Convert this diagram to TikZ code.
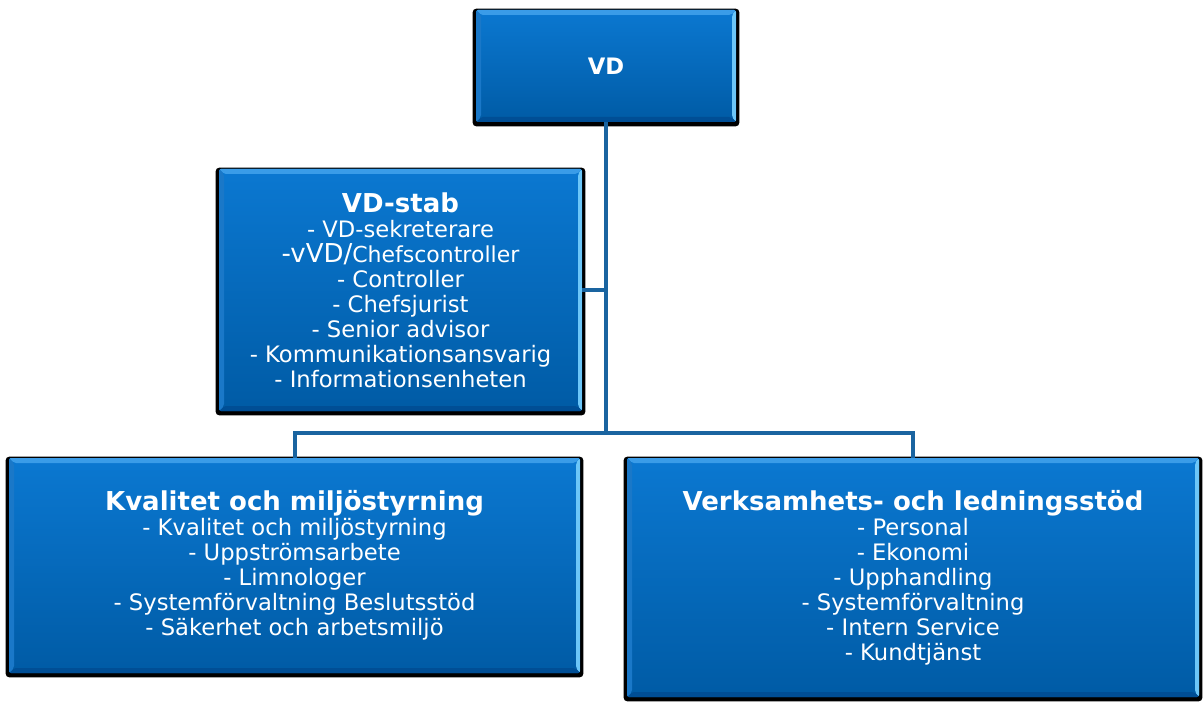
\documentclass[tikz,border=0pt]{standalone}
\usepackage{fontspec}
\setmainfont{DejaVu Sans}
\usetikzlibrary{calc,backgrounds}
\definecolor{boxtop}{HTML}{0B78D1}
\definecolor{boxbot}{HTML}{005BA5}
\definecolor{bevtop}{HTML}{3A9CE8}
\definecolor{bevright}{HTML}{6CC6F8}
\definecolor{bevleft}{HTML}{1A78C8}
\definecolor{bevbot}{HTML}{004E95}
\definecolor{linecol}{HTML}{1A64A0}
\newcommand\ttlfont{\fontsize{19.5pt}{22pt}\selectfont\bfseries}
\newcommand\itmfont{\fontsize{17pt}{18.75pt}\selectfont}
\tikzset{
  orgbox/.style={rectangle, rounded corners=1.5pt, text=white, align=center,
    inner sep=0pt, top color=boxtop, bottom color=boxbot, draw=none,
    font=\itmfont,
    path picture={
      \fill[bevtop] (path picture bounding box.north west) -- (path picture bounding box.north east)
        -- ([xshift=-3.75pt,yshift=-3.75pt]path picture bounding box.north east)
        -- ([xshift=3.75pt,yshift=-3.75pt]path picture bounding box.north west) -- cycle;
      \fill[bevright] (path picture bounding box.north east) -- (path picture bounding box.south east)
        -- ([xshift=-3pt,yshift=3.75pt]path picture bounding box.south east)
        -- ([xshift=-3pt,yshift=-3.75pt]path picture bounding box.north east) -- cycle;
      \fill[bevbot] (path picture bounding box.south east) -- (path picture bounding box.south west)
        -- ([xshift=3.75pt,yshift=3.75pt]path picture bounding box.south west)
        -- ([xshift=-3.75pt,yshift=3.75pt]path picture bounding box.south east) -- cycle;
      \fill[bevleft] (path picture bounding box.south west) -- (path picture bounding box.north west)
        -- ([xshift=3.75pt,yshift=-3.75pt]path picture bounding box.north west)
        -- ([xshift=3.75pt,yshift=3.75pt]path picture bounding box.south west) -- cycle;
    }},
  shadowfill/.style={fill=black, rounded corners=2.5pt},
  conn/.style={draw=linecol, line width=3pt}
}
\begin{document}
\begin{tikzpicture}[x=0.75pt,y=-0.75pt]
\useasboundingbox (0,0) rectangle (1203,702);
\node[orgbox, minimum width=195pt, minimum height=84pt] (vd) at (606,66)
  {\fontsize{17pt}{19pt}\selectfont\bfseries VD};
\node[orgbox, minimum width=272.25pt, minimum height=181.5pt] (stab) at (400.5,290)
  {{\ttlfont VD-stab}\\
   - VD-sekreterare\\
   {\fontsize{19.5pt}{18.75pt}\selectfont -vVD/}{\fontsize{16.5pt}{18pt}\selectfont Chefscontroller}\\
   - Controller\\
   - Chefsjurist\\
   - Senior advisor\\
   - Kommunikationsansvarig\\
   - Informationsenheten};
\node[orgbox, minimum width=428.25pt, minimum height=161.25pt] (kv) at (294.5,565.5)
  {{\ttlfont Kvalitet och miljöstyrning}\\
   - Kvalitet och miljöstyrning\\
   - Uppströmsarbete\\
   - Limnologer\\
   - Systemförvaltning Beslutsstöd\\
   - Säkerhet och arbetsmiljö};
\node[orgbox, minimum width=429pt, minimum height=179.25pt] (vs) at (913,577.5)
  {{\ttlfont Verksamhets- och ledningsstöd}\\
   - Personal\\
   - Ekonomi\\
   - Upphandling\\
   - Systemförvaltning\\
   - Intern Service\\
   - Kundtjänst};
\begin{scope}[on background layer]
  \foreach \n in {vd,stab,kv,vs}{
    \fill[shadowfill] ($(\n.south west)+(-3,4)$) rectangle ($(\n.north east)+(3,-1)$);
  }
\end{scope}
\coordinate (j) at (vd.south |- 0,433);
\draw[conn] (vd.south) -- (j);
\draw[conn] (stab.east) -- (stab.east -| vd.south);
\draw[conn] (kv.north) |- (j) -| (vs.north);
\end{tikzpicture}
\end{document}
